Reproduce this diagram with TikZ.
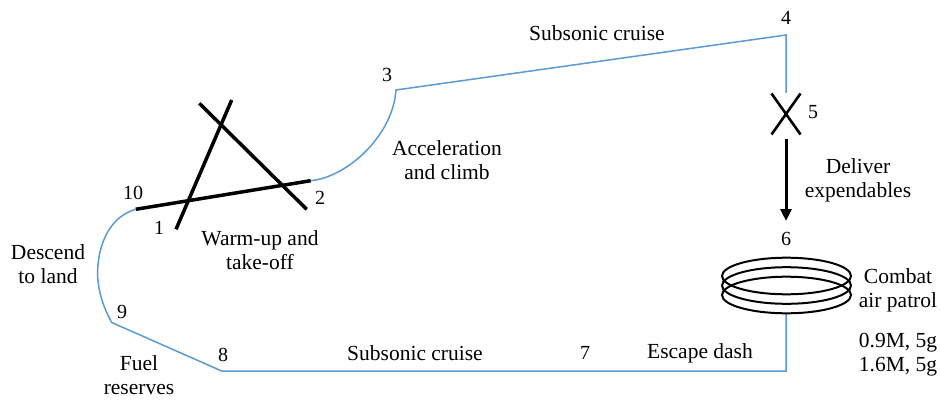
\documentclass[tikz,border=0pt]{standalone}
\usepackage{fontspec}
\setmainfont{Liberation Serif}
\usetikzlibrary{arrows.meta,calc}
\definecolor{pathblue}{RGB}{91,155,213}
\tikzset{
  route/.style={draw=pathblue, line width=1.5pt},
  runway/.style={draw=black, line width=3.5pt},
  cross/.style={draw=black, line width=2.6pt},
  coil/.style={draw=black, line width=2pt},
  lbl/.style={font=\fontsize{21.5}{24}\selectfont, align=center, inner sep=0pt},
  num/.style={font=\fontsize{20}{22}\selectfont, inner sep=0pt},
}
\begin{document}
\begin{tikzpicture}[x=1pt,y=-1pt]
\useasboundingbox[fill=white] (0,0) rectangle (941,401);
% key points
\coordinate (p10) at (135.7,209.3);
\coordinate (p2) at (310.7,180.7);
\coordinate (p3) at (396,90);
\coordinate (p4) at (786,35);
\coordinate (x5) at (786,114);
\coordinate (p5top) at (786,93);
\coordinate (arrS) at (786,139);
\coordinate (arrE) at (786,221);
\coordinate (coilB) at (786,313.5);
\coordinate (corner) at (786,371);
\coordinate (p8) at (221.7,371);
\coordinate (p9) at (111.7,322.5);
\coordinate (legAa) at (176,229.3);
\coordinate (legAb) at (231.7,100);
\coordinate (legBa) at (199.3,103.3);
\coordinate (legBb) at (306.7,209.3);
% runway triangle
\draw[runway] (p10) -- (p2);
\draw[runway] (legAa) -- (legAb);
\draw[runway] (legBa) -- (legBb);
% blue route
\draw[route] (p2) .. controls (348,177) and (393,135) .. (p3) -- (p4) -- (p5top);
\draw[route] (coilB) -- (corner) -- (p8) -- (p9)
  .. controls (102,305) and (96,285) .. (98,265)
  .. controls (100,240) and (112,216) .. (p10);
% X at 5
\draw[cross] ($(x5)+(-14.5,-20.5)$) -- ($(x5)+(14.5,20.5)$);
\draw[cross] ($(x5)+(14.5,-20.5)$) -- ($(x5)+(-14.5,20.5)$);
% arrow
\draw[line width=3pt, -{Triangle[length=12pt,width=11pt]}] (arrS) -- (arrE);
% coil
\draw[coil] (786.5,276) ellipse [x radius=64.5, y radius=18.3];
\draw[coil] (786.5,285.5) ellipse [x radius=64.5, y radius=18.3];
\draw[coil] (786.5,295) ellipse [x radius=64.5, y radius=18.3];
% numbers
\node[num] (n10) at (133,193) {10};
\node[num] (n1) at (159,228) {1};
\node[num] (n2) at (320,198) {2};
\node[num] (n3) at (387,75) {3};
\node[num] (n4) at (786,18) {4};
\node[num] (n5) at (813,112) {5};
\node[num] (n6) at (786,239) {6};
\node[num] (n7) at (585,353) {7};
\node[num] (n8) at (223,355) {8};
\node[num] (n9) at (122,312) {9};
% labels
\node[lbl] (lwarm) at (260,250) {Warm-up and\\take-off};
\node[lbl] (lacc) at (447,160) {Acceleration\\and climb};
\node[lbl] (lsub1) at (597,33) {Subsonic cruise};
\node[lbl] (ldel) at (858,180) {Deliver\\expendables};
\node[lbl] (lcap) at (898,290) {Combat\\air patrol};
\node[lbl] (lmach) at (898,355) {0.9M, 5g\\1.6M, 5g};
\node[lbl] (lesc) at (700,353) {Escape dash};
\node[lbl] (lsub2) at (415,353) {Subsonic cruise};
\node[lbl] (lfuel) at (139,375) {Fuel\\reserves};
\node[lbl] (ldesc) at (48,264) {Descend\\to land};
\end{tikzpicture}
\end{document}
